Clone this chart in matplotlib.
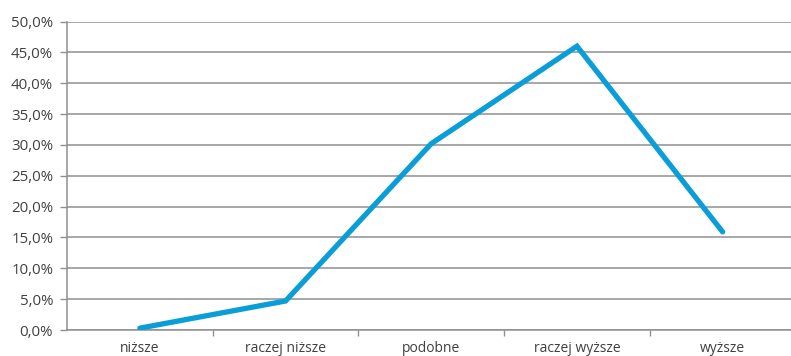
import matplotlib
matplotlib.use("Agg")
import matplotlib.pyplot as plt
from matplotlib.ticker import FuncFormatter, MultipleLocator, FixedLocator

categories = ["niższe", "raczej niższe", "podobne", "raczej wyższe", "wyższe"]
shares = [0.3, 4.7, 30.2, 46.0, 15.9]

plt.rcParams['font.family'] = ['Open Sans', 'DejaVu Sans']

fig = plt.figure(figsize=(7.91, 3.56), dpi=100)
W, H = 791, 356
left, right, top, bottom = 67, 791, 21.5, 330
ax = fig.add_axes([left / W, 1 - bottom / H, (right - left) / W, (bottom - top) / H])

x = list(range(len(categories)))
ax.plot(x, shares, color="#0A9ED9", linewidth=3.8,
        solid_capstyle="round", solid_joinstyle="miter", zorder=3)

step = 145.7
ax.set_xlim(-0.5, (right - left) / step - 0.5)
ax.set_ylim(0, 50)

ax.yaxis.set_major_locator(MultipleLocator(5))
ax.yaxis.set_major_formatter(FuncFormatter(lambda v, p: f"{v:.1f}%".replace(".", ",")))
ax.grid(axis="y", color="#909090", linewidth=1.1, zorder=1)
ax.set_axisbelow(True)

ax.set_xticks(x)
ax.set_xticklabels(categories)
ax.xaxis.set_minor_locator(FixedLocator([i + 0.5 for i in range(len(categories) - 1)]))
ax.tick_params(axis="x", which="major", length=0, pad=8, labelsize=10, labelcolor="#404040")
ax.tick_params(axis="x", which="minor", length=4, width=1, color="#909090", direction="out")
ax.tick_params(axis="y", length=5, width=1, color="#909090", pad=5, labelsize=10.8, labelcolor="#404040")

for s in ["top", "right"]:
    ax.spines[s].set_visible(False)
ax.spines["left"].set_color("#909090")
ax.spines["left"].set_linewidth(1.1)
ax.spines["bottom"].set_color("#909090")
ax.spines["bottom"].set_linewidth(1.1)

fig.savefig("out.png", dpi=100)
